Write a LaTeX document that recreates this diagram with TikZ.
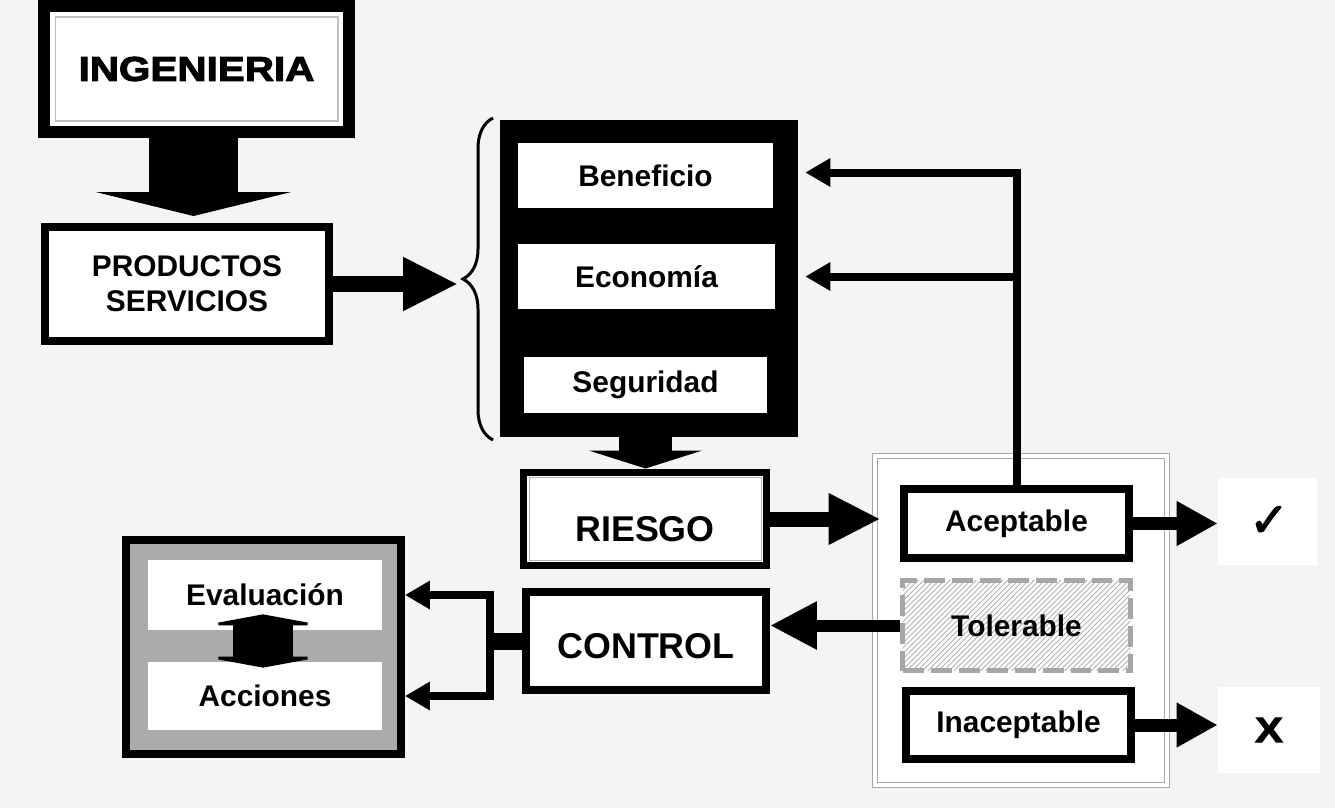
\documentclass[tikz,border=0pt]{standalone}
\usepackage{fontspec}
\setmainfont{Liberation Sans}
\newfontfamily\blackfont[BoldFeatures={FakeBold=3,FakeStretch=1.18}]{Liberation Sans}
\newfontfamily\symbfont[FakeBold=2.5]{DejaVu Sans}
\usetikzlibrary{arrows.meta,patterns,decorations.pathreplacing,calc}

\definecolor{bgc}{HTML}{F4F4F4}
\definecolor{midgray}{HTML}{ABABAB}

\begin{document}
\begin{tikzpicture}
    [x = 0.02cm, y = -0.02cm,
     every node/.style = {font=\bfseries\fontsize{17}{20}\selectfont, inner sep=0pt, align=center},
     box/.style = {draw, line width=0.16cm, fill=white},
     plain/.style = {fill=white},
     bigarrow/.style = {line width=1.8cm, -{Triangle[width=3.9cm,length=0.48cm]}},
     fatarrow/.style = {line width=0.32cm, -{Triangle[width=1cm,length=1.1cm]}},
     midarrow/.style = {line width=0.26cm, -{Triangle[width=0.84cm,length=0.82cm]}},
     thinarrow/.style = {line width=0.16cm, line join=miter, -{Triangle[width=0.54cm,length=0.5cm]}}]
    \fill[bgc] (0,0) rectangle (1335,808);
    \useasboundingbox (0,0) rectangle (1335,808);

    % left column
    \node[box, line width=0.24cm, minimum width=6.1cm, minimum height=2.52cm,
          font=\blackfont\bfseries\fontsize{19.5}{22}\selectfont] (ing) at (196.5,69) {INGENIERIA};
    \draw[gray!50, line width=0.6pt] ($(ing.north west)+(17,17)$) rectangle ($(ing.south east)+(-17,-17)$);
    \node[box, minimum width=5.68cm, minimum height=2.28cm] (prod) at (187,284) {PRODUCTOS\\SERVICIOS};
    \draw[bigarrow, shorten >=0.14cm] ($(ing.south)+(-3,0)$) -- ($(ing.south |- prod.north)+(-3,0)$);

    % criteria
    \node[fill=black, minimum width=5.96cm, minimum height=6.34cm] (crit) at (649,278.5) {};
    \node[plain, minimum width=5.1cm, minimum height=1.3cm] (ben) at (645.5,175.5) {Beneficio};
    \node[plain, minimum width=5.14cm, minimum height=1.3cm] (eco) at (646.5,276.5) {Economía};
    \node[plain, minimum width=4.86cm, minimum height=1.12cm] (seg) at (645.5,385) {Seguridad};
    \draw[line width=0.06cm, decorate, decoration={brace, amplitude=0.6cm}] (493,440) -- (493,118);
    \coordinate (bt) at (458,284);
    \draw[fatarrow] (prod.east) -- (bt);

    % riesgo
    \node[box, line width=0.14cm, minimum width=4.86cm, minimum height=1.88cm,
          font=\bfseries\fontsize{20.4}{24}\selectfont] (ries) at (645,519) {\raisebox{-0.45cm}[0pt][0pt]{RIESGO}};
    \draw[gray!60, line width=0.5pt] ($(ries.north west)+(9,9)$) rectangle ($(ries.south east)+(-9,-9)$);
    \draw[line width=1.06cm, -{Triangle[width=2.26cm,length=0.36cm]}] (seg.south) -- (seg.south |- ries.north);

    % zone
    \node[draw=gray!70, line width=0.6pt, double=white, double distance=0.07cm, fill=white,
          minimum width=5.84cm, minimum height=6.58cm] (zone) at (1021,620.5) {};
    \node[box, minimum width=4.5cm, minimum height=1.38cm] (acep) at (1016.5,523.5) {Aceptable};
    \node[draw=gray!70, line width=0.1cm, dash pattern=on 0.42cm off 0.14cm,
          preaction={fill=white}, pattern=north east lines, pattern color=gray!70,
          minimum width=4.56cm, minimum height=1.8cm] (tol) at (1016.5,625.5) {Tolerable};
    \node[box, minimum width=4.5cm, minimum height=1.36cm] (inac) at (1018.5,725) {Inaceptable};
    \draw[line width=0.3cm, -{Triangle[width=0.96cm,length=1.04cm]}, shorten >=-0.12cm]
      (ries.east) -- (ries.east -| zone.west);

    \node[plain, minimum width=1.98cm, minimum height=1.74cm,
          font=\symbfont\fontsize{27}{30}\selectfont] (ok) at (1267.5,521.5) {\hspace{0.06cm}✓};
    \node[plain, minimum width=2.04cm, minimum height=1.72cm,
          font=\blackfont\bfseries\fontsize{20}{24}\selectfont] (no) at (1269,730) {X};
    \foreach \a/\b in {acep/ok, inac/no}
      \draw[midarrow] (\a.east) -- (\a.east -| \b.west);

    % feedback
    \draw[thinarrow] (acep.north) |- ($(crit.east |- ben)+(7,-3)$);
    \draw[thinarrow] (acep.north |- eco) -- ($(crit.east |- eco)+(7,0)$);

    % control
    \node[box, minimum width=4.8cm, minimum height=1.96cm,
          font=\bfseries\fontsize{20.4}{24}\selectfont] (ctrl) at (646,641) {\raisebox{-0.34cm}[0pt][0pt]{CONTROL}};
    \draw[line width=0.24cm, -{Triangle[width=0.9cm,length=0.94cm]}] (tol.west) -- (tol.west -| ctrl.east);

    \node[box, fill=midgray, minimum width=5.5cm, minimum height=4.28cm] (evb) at (263.5,647) {};
    \node[plain, minimum width=4.68cm, minimum height=1.4cm] (evalu) at (265,595) {Evaluación};
    \node[plain, minimum width=4.68cm, minimum height=1.36cm] (acci) at (265,696) {Acciones};
    \draw[line width=1.2cm, {Triangle[width=2.38cm,length=0.22cm]}-{Triangle[width=2.38cm,length=0.22cm]}]
      ($(evalu.south)+(-2,-16)$) -- ($(acci.north)+(-2,6)$);

    \coordinate (j) at (490,641);
    \draw[line width=0.34cm] (ctrl.west) -- (j);
    \foreach \t in {evalu, acci}
      \draw[thinarrow] (j) |- (evb.east |- \t);
\end{tikzpicture}
\end{document}
